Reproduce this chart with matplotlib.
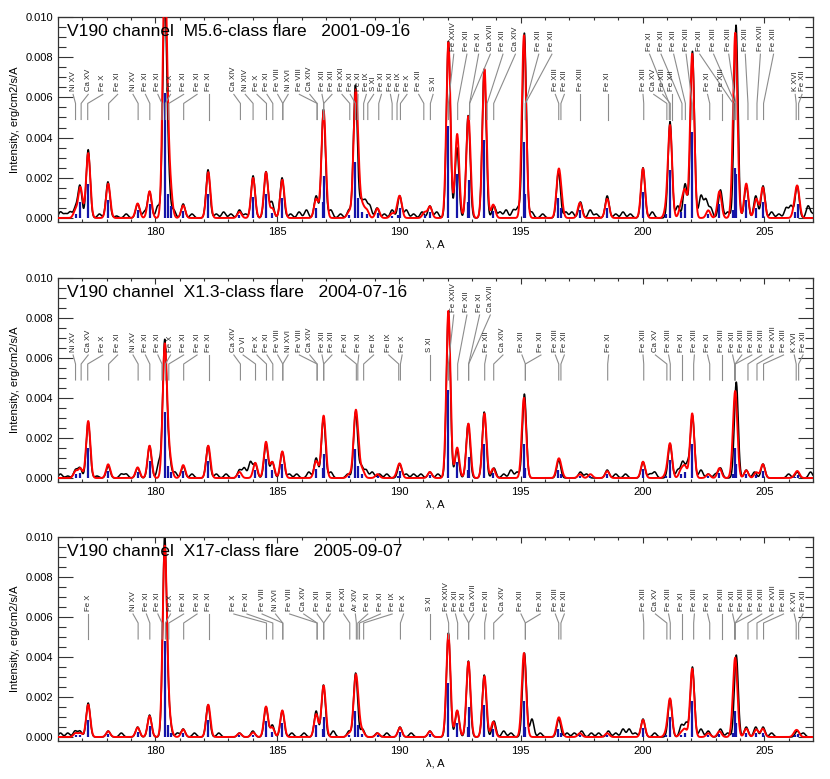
import numpy as np
import matplotlib
matplotlib.use("Agg")
import matplotlib.pyplot as plt
from matplotlib.ticker import MultipleLocator, FormatStrFormatter

plt.rcParams['font.family'] = ['Liberation Sans', 'DejaVu Sans']

# ---------------- DATA ----------------
titles = ["V190 channel  M5.6-class flare   2001-09-16",
          "V190 channel  X1.3-class flare   2004-07-16",
          "V190 channel  X17-class flare   2005-09-07"]

# model spectral lines (wavelength, A)
line_wl = [176.72, 176.92, 177.24, 178.06, 179.27, 179.76, 180.38, 180.50, 180.62,
           181.14, 182.17, 183.45, 184.01, 184.10, 184.54, 184.80, 185.21, 186.60,
           186.87, 186.92, 187.95, 188.21, 188.31, 188.50, 188.68, 189.12, 189.72,
           189.94, 190.04, 191.05, 191.27, 192.03, 192.39, 192.83, 192.86, 193.51,
           193.87, 195.12, 195.18, 196.54, 196.64, 197.43, 197.86, 198.55, 200.02,
           200.97, 201.13, 201.58, 201.74, 202.04, 202.70, 203.16, 203.72, 203.80,
           203.83, 204.26, 204.67, 204.94, 206.26, 206.37]
# model line intensities per flare (blue bars)
line_int_1 = [0.0002, 0.0008, 0.0017, 0.0009, 0.00038, 0.0007, 0.0062, 0.0012, 0.0006,
              0.00033, 0.0012, 0.00016, 0.00105, 0.0, 0.0012, 0.00025, 0.001, 0.0005,
              0.0008, 0.0021, 0.00016, 0.0028, 0.0010, 0.0003, 0.0002, 0.00025, 0.00012,
              0.00015, 0.0005, 0.00015, 0.0003, 0.0046, 0.0022, 0.0008, 0.0019, 0.0039,
              0.00035, 0.0038, 0.0012, 0.0010, 0.0005, 0.0004, 0.0, 0.0005, 0.0013,
              0.0002, 0.0024, 0.0003, 0.0007, 0.0043, 0.0002, 0.0007, 0.0004, 0.0025,
              0.0022, 0.0009, 0.0005, 0.0008, 0.0003, 0.0007]
line_int_2 = [0.00018, 0.00025, 0.0015, 0.00036, 0.00028, 0.00085, 0.0033, 0.0006, 0.0003,
              0.00034, 0.00085, 0.00016, 0.0, 0.0004, 0.00095, 0.00042, 0.0007, 0.00045,
              0.0005, 0.0012, 0.0001, 0.00145, 0.0006, 0.0002, 0.0, 0.0001, 0.0,
              0.0001, 0.00033, 0.0, 0.00016, 0.0044, 0.0008, 0.0004, 0.00105, 0.0017,
              0.00025, 0.0017, 0.0005, 0.0004, 0.0002, 0.0001, 0.0001, 0.00018, 0.00043,
              0.0001, 0.0009, 0.0002, 0.0003, 0.0017, 0.0001, 0.00026, 0.0002, 0.0015,
              0.0007, 0.0002, 0.00015, 0.00036, 0.00005, 0.00016]
line_int_3 = [0.0001, 0.0001, 0.00085, 0.00015, 0.00025, 0.00055, 0.0048, 0.0006, 0.0002,
              0.0002, 0.00085, 0.0001, 0.00012, 0.0, 0.0008, 0.00025, 0.0007, 0.0006,
              0.0004, 0.0010, 0.0001, 0.0013, 0.0006, 0.00015, 0.0, 0.0001, 0.0,
              0.0, 0.00025, 0.0, 0.00015, 0.0027, 0.0007, 0.0005, 0.0015, 0.0016,
              0.0004, 0.0018, 0.0005, 0.0004, 0.0002, 0.0001, 0.0, 0.0001, 0.00045,
              0.0001, 0.0010, 0.0001, 0.0002, 0.0018, 0.0001, 0.00015, 0.0002, 0.0013,
              0.0007, 0.00022, 0.0002, 0.00022, 0.0001, 0.00013]

# observed spectra: peak wavelengths and heights
obs_wl_1 = [176.1, 176.3, 176.5, 176.72, 176.9, 177.24, 177.7, 178.05, 178.4, 178.8,
            179.27, 179.55, 179.76, 180.1, 180.38, 180.52, 180.75, 181.14, 181.5, 182.16,
            182.5, 182.8, 183.1, 183.45, 183.7, 184.01, 184.54, 184.78, 185.2, 185.55,
            185.9, 186.2, 186.6, 186.9, 187.2, 187.6, 187.95, 188.21, 188.45, 188.62,
            188.8, 189.1, 189.4, 189.72, 190.03, 190.3, 190.6, 190.95, 191.27, 191.55,
            192.03, 192.38, 192.84, 193.5, 193.9, 194.15, 194.4, 194.7, 194.9, 195.15,
            195.45, 195.9, 196.55, 196.85, 197.1, 197.45, 197.85, 198.1, 198.55, 198.9,
            199.2, 199.5, 200.02, 200.4, 201.13, 201.45, 201.75, 202.05, 202.4, 202.6,
            202.8, 203.2, 203.5, 203.84, 204.26, 204.65, 204.95, 205.3, 205.6, 205.9,
            206.1, 206.35, 206.8, 207.0]
obs_h_1 = [0.0003, 0.0002, 0.0003, 0.0005, 0.0016, 0.0034, 0.0002, 0.0018, 0.0001, 0.0002,
           0.0007, 0.0003, 0.0013, 0.0006, 0.0105, 0.0020, 0.0004, 0.0007, 0.0002, 0.0024,
           0.0002, 0.0003, 0.0002, 0.0004, 0.0002, 0.0021, 0.0023, 0.0008, 0.0020, 0.0002,
           0.0003, 0.0004, 0.0011, 0.0054, 0.0004, 0.0002, 0.0004, 0.0066, 0.0008, 0.0008,
           0.0006, 0.0005, 0.0002, 0.0004, 0.0011, 0.0004, 0.0002, 0.0003, 0.0006, 0.0003,
           0.0088, 0.0035, 0.0051, 0.0074, 0.0006, 0.0003, 0.0004, 0.0004, 0.0005, 0.0092,
           0.0003, 0.0002, 0.0023, 0.0003, 0.0003, 0.0008, 0.0004, 0.0002, 0.0011, 0.0002,
           0.0003, 0.0002, 0.0025, 0.0003, 0.0048, 0.0006, 0.0017, 0.0083, 0.0011, 0.0009,
           0.0005, 0.0014, 0.0003, 0.0096, 0.0016, 0.0011, 0.0016, 0.0003, 0.0002, 0.0005,
           0.0006, 0.0016, 0.0006, 0.0002]
obs_wl_2 = [176.1, 176.4, 176.72, 176.9, 177.24, 177.6, 178.06, 178.6, 178.8, 179.27,
            179.76, 180.15, 180.38, 180.55, 180.8, 181.14, 181.5, 182.16, 182.5, 182.9,
            183.45, 183.65, 183.9, 184.1, 184.54, 184.8, 185.21, 185.5, 185.8, 186.3,
            186.6, 186.9, 187.2, 187.9, 188.22, 188.45, 188.65, 188.9, 189.2, 189.5,
            190.03, 190.3, 190.6, 190.9, 191.27, 191.6, 192.03, 192.38, 192.84, 193.5,
            193.9, 194.3, 194.6, 194.85, 195.15, 196.56, 197.45, 197.7, 198.55, 198.9,
            199.3, 200.02, 200.3, 200.5, 201.13, 201.45, 201.65, 201.85, 202.05, 202.4,
            202.7, 203.0, 203.2, 203.85, 204.26, 204.6, 204.95, 206.0, 206.35, 206.9]
obs_h_2 = [0.0002, 0.0001, 0.0004, 0.0005, 0.0028, 0.0001, 0.0006, 0.0002, 0.0002, 0.0005,
           0.0016, 0.0008, 0.0068, 0.0012, 0.0003, 0.0006, 0.0002, 0.0016, 0.0002, 0.0002,
           0.0004, 0.0005, 0.0008, 0.0007, 0.0017, 0.0008, 0.0013, 0.0002, 0.0002, 0.0003,
           0.0010, 0.0030, 0.0003, 0.0002, 0.0033, 0.0006, 0.0004, 0.0003, 0.0002, 0.0002,
           0.0007, 0.0002, 0.0002, 0.0002, 0.0003, 0.0002, 0.0083, 0.0014, 0.0027, 0.0033,
           0.0005, 0.0002, 0.0004, 0.0003, 0.0042, 0.0009, 0.0003, 0.0002, 0.0004, 0.0002,
           0.0002, 0.0008, 0.0002, 0.0003, 0.0017, 0.0004, 0.0008, 0.0007, 0.0031, 0.0004,
           0.0002, 0.0002, 0.0005, 0.0048, 0.0004, 0.0003, 0.0007, 0.0002, 0.0003, 0.0003]
obs_wl_3 = [176.1, 176.4, 176.7, 176.9, 177.24, 178.06, 178.6, 179.27, 179.76, 180.38,
            180.55, 180.9, 181.14, 181.6, 182.16, 182.6, 183.45, 184.0, 184.54, 184.8,
            185.21, 185.6, 186.1, 186.6, 186.9, 187.3, 187.95, 188.22, 188.5, 189.1,
            189.5, 190.04, 190.5, 191.27, 192.03, 192.39, 192.85, 193.5, 193.9, 194.3,
            194.6, 195.15, 195.46, 195.8, 196.56, 196.9, 197.2, 197.5, 197.9, 198.2,
            198.6, 198.9, 199.2, 199.45, 199.7, 200.02, 200.5, 201.13, 201.6, 201.8,
            202.05, 202.4, 202.7, 203.2, 203.5, 203.85, 204.26, 204.65, 204.95, 205.3,
            206.35, 206.6]
obs_h_3 = [0.0002, 0.0002, 0.0003, 0.0003, 0.0017, 0.0003, 0.0002, 0.0005, 0.0011, 0.0100,
           0.0012, 0.0002, 0.0004, 0.0002, 0.0016, 0.0002, 0.0002, 0.0003, 0.0015, 0.0006,
           0.0013, 0.0002, 0.0002, 0.0013, 0.0026, 0.0003, 0.0003, 0.0032, 0.0004, 0.0002,
           0.0002, 0.0005, 0.0002, 0.0003, 0.0052, 0.0013, 0.0038, 0.0031, 0.0008, 0.0003,
           0.0002, 0.0042, 0.0009, 0.0002, 0.0009, 0.0002, 0.0002, 0.0003, 0.0002, 0.0002,
           0.0003, 0.0002, 0.0004, 0.0004, 0.0002, 0.0009, 0.0002, 0.0019, 0.0006, 0.0007,
           0.0035, 0.0004, 0.0003, 0.0004, 0.0002, 0.0041, 0.0005, 0.0005, 0.0005, 0.0002,
           0.0003, 0.0002]

# line identifications: ion name, line wavelength
lab_names_1 = ["Ni XV", "Ca XV", "Fe X", "Fe XI", "Ni XV", "Fe XI", "Fe XI", "Fe X", "Fe XI",
               "Fe XI", "Fe XI", "Ca XIV", "Ni XIV", "Fe X", "Fe XI", "Fe VIII", "Ni XVI",
               "Fe VIII", "Ca XIV", "Fe XII", "Fe XII", "Fe XXI", "Fe XI", "Fe XI", "Fe IX",
               "S XI", "Fe XI", "Fe XI", "Fe IX", "Fe X", "Fe XII", "S XI",
               "Fe XXIV", "Fe XII", "Fe XI", "Ca XVII", "Fe XII", "Ca XIV", "Fe XII", "Fe XII",
               "Fe XIII", "Fe XII", "Fe XIII", "Fe XI", "Fe XIII", "Ca XV", "Fe XIII", "Fe XII",
               "Fe XI", "Fe XII", "Fe XII", "Fe XIII", "Fe XII", "Fe XI", "Fe XIII", "Fe XIII",
               "Fe XIII", "Fe XIII", "Fe XVII", "Fe XIII", "K XVI", "Fe XII"]
lab_wl_1 = [176.72, 176.95, 177.22, 178.08, 179.29, 179.77, 180.27, 180.41, 180.55,
            181.16, 182.19, 183.49, 184.01, 184.56, 184.82, 185.23, 185.23,
            186.64, 186.64, 186.91, 186.91, 187.98, 188.21, 188.31, 188.55,
            188.72, 189.17, 189.72, 189.92, 190.06, 191.02, 191.29,
            192.03, 192.41, 192.90, 192.90, 193.62, 193.89, 195.19, 195.19,
            196.56, 196.65, 197.45, 198.57, 200.05, 201.00, 201.14, 201.21,
            201.10, 201.62, 201.76, 202.04, 203.72, 202.76, 203.26, 203.80,
            203.83, 204.33, 204.70, 204.97, 206.31, 206.41]
lab_names_2 = ["Ni XV", "Ca XV", "Fe X", "Fe XI", "Ni XV", "Fe XI", "Fe XI", "Fe X", "Fe XI",
               "Fe XI", "Fe XI", "Ca XIV", "O VI", "Fe X", "Fe XI", "Fe VIII", "Ni XVI",
               "Fe VIII", "Ca XIV", "Fe XII", "Fe XII", "Fe XI", "Fe XI", "Fe IX", "Fe IX",
               "Fe X", "S XI", "Fe XXIV", "Fe XII", "Fe XI", "Ca XVII",
               "Fe XII", "Ca XIV", "Fe XII", "Fe XII", "Fe XIII", "Fe XII", "Fe XI", "Fe XIII",
               "Ca XV", "Fe XIII", "Fe XI", "Fe XIII", "Fe XI", "Fe XIII", "Fe XII", "Fe XIII",
               "Fe XIII", "Fe XIII", "Fe XVII", "Fe XIII", "K XVI", "Fe XII"]
lab_wl_2 = [176.72, 176.95, 177.22, 178.08, 179.29, 179.77, 180.27, 180.41, 180.55,
            181.16, 182.19, 183.49, 184.11, 184.56, 184.82, 185.23, 185.23,
            186.64, 186.64, 186.91, 186.91, 188.25, 188.31, 188.55, 189.99,
            190.06, 191.26, 192.03, 192.41, 192.86, 192.86,
            193.52, 193.89, 195.19, 195.19, 196.56, 196.65, 198.57, 200.05,
            201.00, 201.14, 201.62, 202.10, 202.76, 203.26, 203.78, 203.80,
            203.81, 204.33, 204.70, 204.97, 206.31, 206.41]
lab_names_3 = ["Fe X", "Ni XV", "Fe XI", "Fe XI", "Fe X", "Fe XI", "Fe XI", "Fe XI",
               "Fe X", "Fe XI", "Fe VIII", "Ni XVI", "Fe VIII", "Ca XIV", "Fe XII", "Fe XII",
               "Fe XXI", "Ar XIV", "Fe XI", "Fe XI", "Fe IX", "Fe X", "S XI",
               "Fe XXIV", "Fe XII", "Fe XI", "Ca XVII", "Fe XII", "Ca XIV", "Fe XII", "Fe XII",
               "Fe XIII", "Fe XII", "Fe XIII", "Ca XV", "Fe XIII", "Fe XI", "Fe XIII", "Fe XI",
               "Fe XIII", "Fe XII", "Fe XIII", "Fe XIII", "Fe XIII", "Fe XVII", "Fe XIII",
               "K XVI", "Fe XII"]
lab_wl_3 = [177.24, 179.29, 179.77, 180.27, 180.41, 180.55, 181.16, 182.19,
            184.56, 184.82, 185.23, 185.23, 186.64, 186.64, 186.91, 186.91,
            187.98, 188.25, 188.31, 188.38, 188.55, 190.06, 191.26,
            192.04, 192.41, 192.86, 192.86, 193.52, 193.89, 195.19, 195.19,
            196.56, 196.65, 200.05, 201.00, 201.14, 201.62, 202.10, 202.76,
            203.26, 203.78, 203.80, 203.81, 204.33, 204.70, 204.97,
            206.31, 206.41]

# ---------------- LAYOUT (label text positions, rows) ----------------
lab_x_1 = [176.62, 177.24, 177.84, 178.45, 179.08, 179.59, 180.10, 180.62, 181.16,
           181.71, 182.19, 183.22, 183.69, 184.17, 184.58, 185.02, 185.45,
           185.91, 186.34, 186.84, 187.25, 187.66, 188.00, 188.32, 188.66,
           188.96, 189.28, 189.65, 189.99, 190.33, 190.81, 191.40,
           192.25, 192.79, 193.27, 193.75, 194.27, 194.78, 195.74, 196.28,
           196.42, 196.79, 197.45, 198.57, 200.02, 200.46, 200.83, 201.21,
           200.29, 200.76, 201.28, 201.79, 202.35, 202.67, 203.26, 202.92,
           203.54, 204.22, 204.84, 205.38, 206.27, 206.55]
lab_row_1 = [0] * 32 + [1] * 8 + [0] * 8 + [1] * 5 + [0, 0] + [1] * 5 + [0, 0]
lab_x_2 = [176.62, 177.24, 177.84, 178.45, 179.08, 179.59, 180.10, 180.62, 181.16,
           181.71, 182.19, 183.22, 183.60, 184.17, 184.58, 185.02, 185.45,
           185.91, 186.34, 186.84, 187.25, 187.80, 188.35, 188.96, 189.58,
           190.13, 191.26, 192.25, 192.79, 193.31, 193.75,
           193.59, 194.27, 195.05, 195.83, 196.42, 196.79, 198.61, 200.02,
           200.53, 201.07, 201.62, 202.13, 202.67, 203.26, 203.70, 204.08,
           204.49, 204.90, 205.36, 205.79, 206.23, 206.59]
lab_row_2 = [0] * 27 + [1] * 4 + [0] * 22
lab_x_3 = [177.24, 179.08, 179.63, 180.10, 180.62, 181.16, 181.71, 182.19,
           183.22, 183.76, 184.38, 184.93, 185.51, 186.09, 186.64, 187.18,
           187.73, 188.21, 188.72, 189.24, 189.72, 190.19, 191.26,
           191.95, 192.32, 192.66, 193.07, 193.59, 194.27, 195.01, 195.80,
           196.42, 196.79, 200.02, 200.53, 201.07, 201.62, 202.13, 202.67,
           203.26, 203.70, 204.08, 204.49, 204.90, 205.36, 205.79,
           206.23, 206.59]
lab_row_3 = [0] * 48

panels = [
    (titles[0], line_int_1, obs_wl_1, obs_h_1, lab_names_1, lab_wl_1, lab_x_1, lab_row_1),
    (titles[1], line_int_2, obs_wl_2, obs_h_2, lab_names_2, lab_wl_2, lab_x_2, lab_row_2),
    (titles[2], line_int_3, obs_wl_3, obs_h_3, lab_names_3, lab_wl_3, lab_x_3, lab_row_3),
]

SIG_MOD = 0.085     # instrumental profile (A)
SIG_OBS = 0.080
PEAK_K = 1.9        # peak of profile relative to line intensity

x = np.linspace(176.0, 207.0, 4000)
lwl = np.array(line_wl)

fig = plt.figure(figsize=(8.30, 7.79), dpi=100)
axes_rects = [(58/830, 1-222/779, 755/830, 205/779),
              (58/830, 1-482/779, 755/830, 204/779),
              (58/830, 1-741/779, 755/830, 204/779)]
frame_col = '#333333'

for rect, (title, lint, owl, oh, names, lwls, lxs, rows) in zip(axes_rects, panels):
    ax = fig.add_axes(rect)
    lint = np.array(lint)
    model = (PEAK_K * lint[:, None] *
             np.exp(-(x[None, :] - lwl[:, None])**2 / (2 * SIG_MOD**2))).sum(axis=0)
    owl_a = np.array(owl); oh_a = np.array(oh)
    obs = (oh_a[:, None] *
           np.exp(-(x[None, :] - owl_a[:, None])**2 / (2 * SIG_OBS**2))).sum(axis=0)
    ax.plot(x, obs, color='black', lw=1.1, zorder=2)
    ax.plot(x, model, color='#ff0000', lw=1.4, zorder=3)
    m = lint > 0
    ax.vlines(lwl[m], 0, lint[m], color='#1414a8', lw=1.6, zorder=4)

    # identifications
    for nm, lw_, lx, rw in zip(names, lwls, lxs, rows):
        ytxt = 0.0063 if rw == 0 else 0.0083
        ystart = ytxt - 0.00015
        ax.plot([lx, lw_, lw_], [ystart, 0.0057, 0.0049], color='#8c8c8c',
                lw=0.8, zorder=5)
        ax.text(lx, ytxt, nm, rotation=90, ha='center', va='bottom',
                fontsize=5.6, color='#222222', zorder=6)

    ax.text(0.012, 0.93, title, transform=ax.transAxes, fontsize=12.5,
            ha='left', va='center', color='black', zorder=7)

    ax.set_xlim(176.0, 207.0)
    ax.set_ylim(-0.0002, 0.0100)
    ax.xaxis.set_major_locator(MultipleLocator(5))
    ax.xaxis.set_minor_locator(MultipleLocator(1))
    ax.yaxis.set_major_locator(MultipleLocator(0.002))
    ax.yaxis.set_minor_locator(MultipleLocator(0.0005))
    ax.yaxis.set_major_formatter(FormatStrFormatter('%.3f'))
    ax.tick_params(axis='both', which='both', direction='in', top=True, right=True,
                   colors=frame_col, labelcolor='black', labelsize=8)
    ax.tick_params(axis='y', which='major', length=11, width=0.8)
    ax.tick_params(axis='y', which='minor', length=5.5, width=0.8)
    ax.tick_params(axis='x', which='major', length=4, width=0.8)
    ax.tick_params(axis='x', which='minor', length=2.5, width=0.8)
    for sp in ax.spines.values():
        sp.set_color(frame_col)
        sp.set_linewidth(0.9)
    ax.set_ylabel('Intensity, erg/cm2/s/A', fontsize=8, labelpad=4)
    ax.set_xlabel('λ, A', fontsize=8, labelpad=2)

fig.savefig('out.png', dpi=100)
